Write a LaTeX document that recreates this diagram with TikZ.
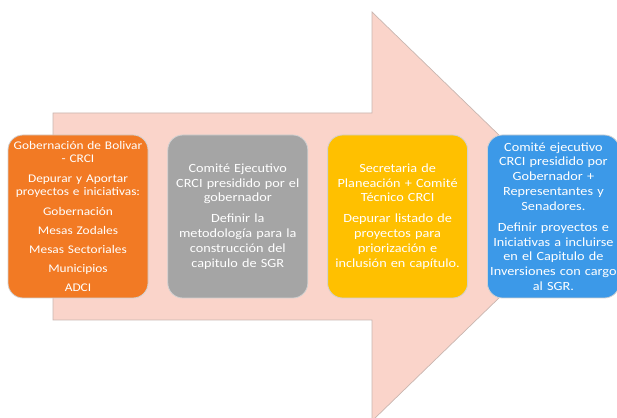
\documentclass[tikz,border=0pt]{standalone}
\usepackage{fontspec}
\setmainfont{Carlito}[FakeStretch=1.14]
\usepackage{tikz}
\usetikzlibrary{positioning}
\definecolor{cnaranja}{HTML}{F27A24}
\definecolor{cgris}{HTML}{A5A5A5}
\definecolor{camarillo}{HTML}{FFC000}
\definecolor{cazul}{HTML}{3C99E8}
\definecolor{cflecha}{HTML}{FAD4CA}
\definecolor{cborde}{HTML}{C9B6B0}
\tikzset{
  caja/.style={rectangle, rounded corners=15pt, draw=black!18, line width=0.8pt,
    text width=136pt, inner xsep=2pt, align=center, minimum height=163pt,
    text=white, font=\fontsize{12.5}{14.8}\selectfont},
  cajan/.style={caja, fill=cnaranja, font=\fontsize{11.7}{13.7}\selectfont},
  cajag/.style={caja, fill=cgris},
  cajaa/.style={caja, fill=camarillo},
  cajaz/.style={caja, fill=cazul, text width=128pt},
  flechafondo/.style={fill=cflecha, draw=cborde, line width=0.7pt},
}

\begin{document}
\begin{tikzpicture}[x=1pt, y=1pt, node distance=19pt]
  \useasboundingbox (0,0) rectangle (617,417);
  % flecha de fondo
  \draw[flechafondo] (53,304) -- (372,304) -- (372,405) -- (583,200.5)
    -- (372,-4) -- (372,97) -- (53,97) -- cycle;
  % cajas
  \node[cajan] (gob) at (78,200.5)
    {Gobernación de Bolivar\\ - CRCI\\[5.5pt] Depurar y Aportar\\ proyectos e iniciativas:\\[5.5pt]
     Gobernación\\[5.5pt] Mesas Zodales\\[5.5pt] Mesas Sectoriales\\[5.5pt] Municipios\\[5.5pt] ADCI};
  \node[cajag, right=of gob] (comite)
    {Comité Ejecutivo\\ CRCI presidido por el\\ gobernador\\[6.2pt] Definir la\\ metodología para la\\
     construcción del\\ capitulo de SGR};
  \node[cajaa, right=of comite] (secre)
    {Secretaria de\\ Planeación + Comité\\ Técnico CRCI\\[6.2pt] Depurar listado de\\ proyectos para\\
     priorización e\\ inclusión en capítulo.};
  \node[cajaz, right=of secre] (ejec)
    {Comité ejecutivo\\ CRCI presidido por\\ Gobernador +\\ Representantes y\\ Senadores.\\[6.2pt]
     Definir proyectos e\\ Iniciativas a incluirse\\ en el Capitulo de\\ Inversiones con cargo\\ al SGR.};
\end{tikzpicture}
\end{document}
